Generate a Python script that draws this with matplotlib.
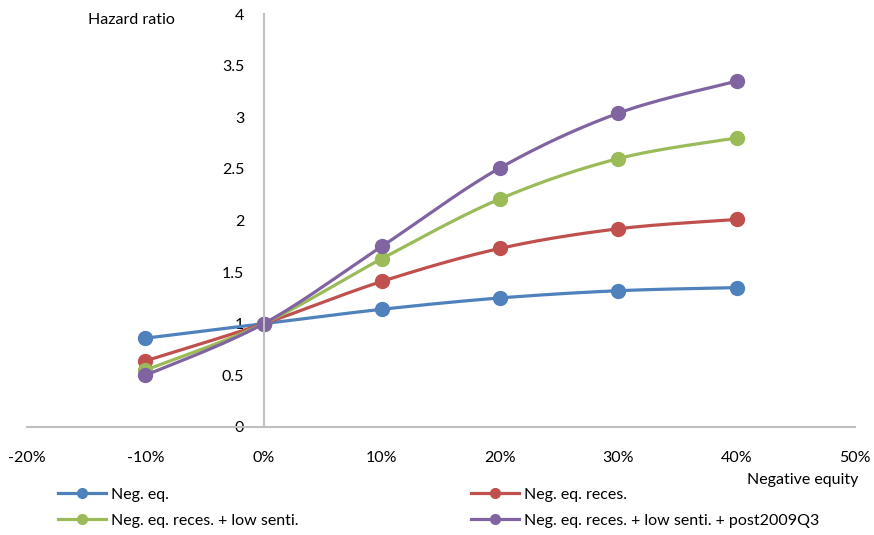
import numpy as np
import matplotlib
matplotlib.use("Agg")
import matplotlib.pyplot as plt

plt.rcParams['font.family'] = ['Lato', 'DejaVu Sans']

# data
neg_equity = [-0.10, 0.0, 0.10, 0.20, 0.30, 0.40]
neg_eq = [0.86, 1.00, 1.14, 1.25, 1.32, 1.35]
neg_eq_reces = [0.64, 1.00, 1.41, 1.73, 1.92, 2.01]
neg_eq_reces_low = [0.55, 1.00, 1.63, 2.21, 2.60, 2.80]
neg_eq_reces_low_post = [0.50, 1.00, 1.75, 2.51, 3.04, 3.35]

series = [
    ("Neg. eq.", neg_eq, "#4F81BD"),
    ("Neg. eq. reces.", neg_eq_reces, "#C0504D"),
    ("Neg. eq. reces. + low senti.", neg_eq_reces_low, "#9BBB59"),
    ("Neg. eq. reces. + low senti. + post2009Q3", neg_eq_reces_low_post, "#8064A2"),
]
x_ticks = [-0.2, -0.1, 0.0, 0.1, 0.2, 0.3, 0.4, 0.5]
y_ticks = [0, 0.5, 1, 1.5, 2, 2.5, 3, 3.5, 4]


def smooth(x, y, n=30):
    # Excel-style smoothed line: cubic Bezier through the points (Catmull-Rom)
    x = np.asarray(x, float)
    y = np.asarray(y, float)
    px = np.concatenate([[x[0]], x, [x[-1]]])
    py = np.concatenate([[y[0]], y, [y[-1]]])
    t = np.linspace(0, 1, n)[:, None]
    xs, ys = [], []
    for i in range(1, len(px) - 2):
        p0 = np.array([px[i], py[i]])
        p3 = np.array([px[i + 1], py[i + 1]])
        c1 = p0 + (np.array([px[i + 1], py[i + 1]]) - np.array([px[i - 1], py[i - 1]])) / 6
        c2 = p3 - (np.array([px[i + 2], py[i + 2]]) - np.array([px[i], py[i]])) / 6
        b = ((1 - t) ** 3) * p0 + 3 * ((1 - t) ** 2) * t * c1 + 3 * (1 - t) * t ** 2 * c2 + t ** 3 * p3
        xs.append(b[:, 0])
        ys.append(b[:, 1])
    return np.concatenate(xs), np.concatenate(ys)


fig = plt.figure(figsize=(8.74, 5.35), dpi=100)
ax = fig.add_axes([27 / 874, 1 - 427 / 535, 828 / 874, 413 / 535])

handles = []
for label, vals, color in series:
    sx, sy = smooth(neg_equity, vals)
    ax.plot(sx, sy, color=color, lw=2.3, solid_capstyle='round')
    ax.plot(neg_equity, vals, 'o', color=color, ms=10)
    h, = ax.plot([], [], color=color, lw=2.3, marker='o', ms=7, label=label)
    handles.append(h)

ax.set_xlim(-0.2, 0.5)
ax.set_ylim(0, 4)
ax.set_xticks(x_ticks)
ax.set_xticklabels([f"{int(round(v * 100))}%" for v in x_ticks])
ax.set_yticks(y_ticks)
ax.set_yticklabels([f"{v:g}" for v in y_ticks])

for s in ['top', 'right']:
    ax.spines[s].set_visible(False)
ax.spines['left'].set_position(('data', 0))
ax.spines['bottom'].set_position(('data', 0))
for s in ['left', 'bottom']:
    ax.spines[s].set_color('#BFBFBF')
    ax.spines[s].set_linewidth(1.5)
ax.tick_params(axis='both', length=0, labelsize=11.5)
ax.tick_params(axis='y', pad=14)
ax.tick_params(axis='x', pad=17)

fig.text(88 / 874, 1 - 20 / 535, "Hazard ratio", fontsize=11.5, va='center', ha='left')
fig.text(858 / 874, 1 - 480 / 535, "Negative equity", fontsize=11.5, va='center', ha='right')

# row-major order like the original legend
order = [0, 2, 1, 3]
fig.legend([handles[i] for i in order], [series[i][0] for i in order],
           loc='upper left', bbox_to_anchor=(44 / 874, 1 - 473 / 535), ncol=2,
           frameon=False, fontsize=11.5, handlelength=3.0, handletextpad=0.3,
           columnspacing=10.8, labelspacing=0.75)

fig.savefig("out.png", dpi=100)
